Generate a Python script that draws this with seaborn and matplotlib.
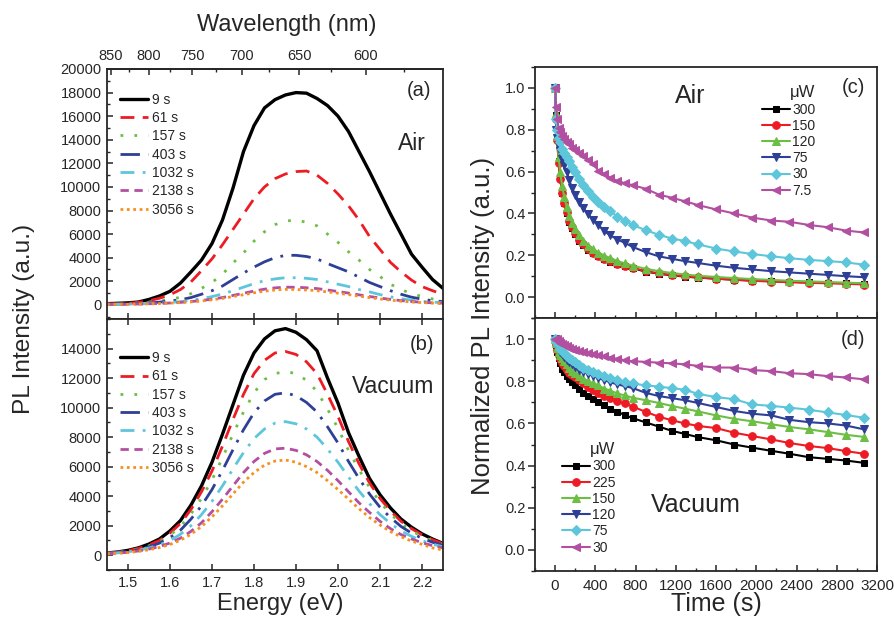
import numpy as np
import pandas as pd
import matplotlib
matplotlib.use("Agg")
import matplotlib.pyplot as plt
import seaborn as sns
from matplotlib.ticker import MultipleLocator, FixedLocator

# ---------------- data ----------------
energy = [1.450, 1.475, 1.500, 1.525, 1.550, 1.575, 1.600, 1.625, 1.650, 1.675, 1.700,
          1.725, 1.750, 1.775, 1.800, 1.825, 1.850, 1.875, 1.900, 1.925, 1.950, 1.975,
          2.000, 2.025, 2.050, 2.075, 2.100, 2.125, 2.150, 2.175, 2.200, 2.225, 2.250]

time_labels = ["9 s", "61 s", "157 s", "403 s", "1032 s", "2138 s", "3056 s"]

air_9 = [100, 130, 170, 240, 460, 750, 1150, 1850, 2800, 3800, 5200, 7200, 9900, 13000, 15200,
         16700, 17400, 17800, 18000, 17950, 17500, 16900, 16000, 14700, 13000, 11300, 9500,
         7700, 6000, 4300, 3200, 2150, 1400]
air_61 = [80, 100, 130, 200, 350, 560, 850, 1300, 1950, 2900, 3900, 5100, 6400, 7700, 9000,
          10000, 10700, 11100, 11300, 11350, 11000, 10300, 9400, 8400, 7200, 5800, 4700, 3600,
          2800, 2100, 1550, 1200, 900]
air_157 = [60, 80, 110, 160, 240, 330, 470, 640, 950, 1400, 1900, 2600, 3550, 4400, 5400, 6200,
           6800, 7100, 7200, 7000, 6700, 6000, 5300, 4500, 3800, 3000, 2400, 1750, 1300, 950,
           700, 500, 380]
air_403 = [50, 60, 80, 110, 160, 230, 330, 430, 620, 900, 1200, 1600, 2150, 2700, 3200, 3650,
           4000, 4200, 4200, 4100, 3900, 3500, 3150, 2800, 2350, 1900, 1550, 1200, 900, 650,
           480, 350, 280]
air_1032 = [40, 50, 60, 80, 110, 150, 200, 270, 380, 520, 700, 920, 1200, 1500, 1800, 2050,
            2200, 2300, 2300, 2250, 2150, 1950, 1750, 1550, 1300, 1100, 870, 680, 520, 400,
            300, 230, 180]
air_2138 = [40, 45, 55, 70, 90, 120, 160, 210, 280, 370, 480, 620, 800, 980, 1170, 1330, 1440,
            1500, 1490, 1450, 1380, 1260, 1130, 1000, 850, 710, 580, 460, 360, 280, 220, 170, 140]
air_3056 = [40, 45, 50, 65, 85, 110, 145, 190, 250, 330, 430, 550, 700, 860, 1020, 1160, 1260,
            1310, 1300, 1260, 1200, 1100, 990, 870, 740, 620, 500, 400, 310, 240, 190, 150, 120]

vac_9 = [150, 220, 330, 500, 760, 1100, 1650, 2350, 3400, 4700, 6300, 8200, 10200, 12200, 13700,
         14650, 15200, 15350, 15100, 14600, 13850, 12000, 10300, 8300, 6700, 5200, 4100, 3200,
         2450, 1900, 1450, 1100, 800]
vac_61 = [150, 210, 310, 460, 700, 1000, 1500, 2150, 3100, 4300, 5700, 7400, 9200, 10900, 12300,
          13200, 13700, 13800, 13600, 13100, 12300, 10900, 9400, 7700, 6200, 4900, 3850, 3000,
          2300, 1800, 1380, 1050, 780]
vac_157 = [140, 200, 290, 430, 640, 920, 1350, 1950, 2800, 3850, 5100, 6600, 8200, 9700, 11000,
           11900, 12300, 12450, 12300, 11850, 11100, 9900, 8600, 7100, 5800, 4600, 3600, 2800,
           2150, 1650, 1280, 980, 730]
vac_403 = [130, 180, 260, 390, 570, 820, 1200, 1700, 2450, 3350, 4450, 5750, 7150, 8500, 9650,
           10450, 10900, 11000, 10800, 10350, 9700, 8700, 7600, 6350, 5200, 4150, 3250, 2550,
           1950, 1500, 1150, 880, 660]
vac_1032 = [120, 160, 230, 340, 490, 700, 1000, 1420, 2000, 2750, 3650, 4700, 5850, 6950, 7900,
            8550, 8950, 9050, 8900, 8550, 8000, 7200, 6300, 5300, 4350, 3500, 2750, 2150, 1650,
            1280, 980, 750, 570]
vac_2138 = [110, 140, 200, 290, 420, 590, 830, 1160, 1620, 2200, 2950, 3800, 4700, 5600, 6350,
            6900, 7200, 7250, 7100, 6800, 6350, 5750, 5050, 4300, 3550, 2900, 2300, 1800, 1400,
            1100, 850, 650, 500]
vac_3056 = [100, 130, 180, 260, 370, 520, 730, 1020, 1420, 1950, 2600, 3350, 4150, 4950, 5600,
            6100, 6380, 6450, 6300, 6000, 5600, 5050, 4450, 3800, 3150, 2550, 2050, 1600, 1250,
            960, 740, 500, 350]

wavelength_ticks = [850, 800, 750, 700, 650, 600]
wavelength_minor = [825, 775, 725, 675, 625, 575]

time_s = [0, 10, 20, 35, 50, 70, 90, 115, 140, 170, 200, 240, 280, 330, 380, 430, 490, 550, 620,
          690, 770, 900, 1030, 1160, 1290, 1420, 1600, 1780, 1960, 2150, 2330, 2520, 2710, 2890,
          3070]

power_air = ["300", "150", "120", "75", "30", "7.5"]
c_300 = [1.0, 0.87, 0.76, 0.65, 0.57, 0.5, 0.45, 0.40, 0.36, 0.33, 0.30, 0.27, 0.25, 0.225, 0.21,
         0.195, 0.18, 0.17, 0.158, 0.148, 0.138, 0.122, 0.112, 0.104, 0.098, 0.093, 0.088, 0.083,
         0.079, 0.076, 0.073, 0.07, 0.068, 0.066, 0.064]
c_150 = [1.0, 0.85, 0.75, 0.64, 0.565, 0.5, 0.45, 0.405, 0.365, 0.335, 0.305, 0.275, 0.255, 0.23,
         0.213, 0.198, 0.184, 0.172, 0.16, 0.15, 0.14, 0.124, 0.113, 0.105, 0.099, 0.094, 0.088,
         0.083, 0.078, 0.074, 0.071, 0.068, 0.066, 0.064, 0.06]
c_120 = [1.0, 0.88, 0.77, 0.67, 0.6, 0.53, 0.48, 0.43, 0.39, 0.355, 0.325, 0.295, 0.27, 0.245,
         0.228, 0.213, 0.198, 0.186, 0.172, 0.162, 0.15, 0.135, 0.124, 0.115, 0.108, 0.102, 0.096,
         0.091, 0.086, 0.082, 0.078, 0.075, 0.072, 0.069, 0.066]
c_75 = [1.0, 0.8, 0.76, 0.72, 0.70, 0.66, 0.63, 0.6, 0.56, 0.52, 0.49, 0.455, 0.425, 0.395, 0.37,
        0.345, 0.315, 0.295, 0.275, 0.26, 0.24, 0.215, 0.195, 0.183, 0.172, 0.163, 0.15, 0.14,
        0.132, 0.124, 0.118, 0.112, 0.106, 0.1, 0.095]
c_30 = [1.0, 0.85, 0.8, 0.76, 0.74, 0.71, 0.69, 0.67, 0.65, 0.62, 0.6, 0.565, 0.535, 0.505, 0.48,
        0.455, 0.43, 0.41, 0.385, 0.365, 0.345, 0.32, 0.298, 0.28, 0.268, 0.252, 0.232, 0.218,
        0.206, 0.195, 0.186, 0.178, 0.172, 0.166, 0.155]
c_7p5 = [1.0, 0.91, 0.85, 0.81, 0.79, 0.77, 0.755, 0.74, 0.73, 0.715, 0.705, 0.69, 0.675, 0.655,
         0.635, 0.605, 0.588, 0.57, 0.555, 0.545, 0.535, 0.518, 0.49, 0.475, 0.458, 0.44, 0.419,
         0.4, 0.38, 0.366, 0.36, 0.345, 0.334, 0.318, 0.309]

power_vac = ["300", "225", "150", "120", "75", "30"]
d_300 = [1.0, 0.97, 0.94, 0.91, 0.885, 0.86, 0.845, 0.825, 0.81, 0.795, 0.78, 0.765, 0.745, 0.73,
         0.715, 0.70, 0.685, 0.67, 0.655, 0.64, 0.625, 0.605, 0.585, 0.565, 0.55, 0.535, 0.52,
         0.50, 0.485, 0.47, 0.456, 0.44, 0.432, 0.424, 0.413]
d_225 = [1.0, 0.975, 0.95, 0.925, 0.905, 0.885, 0.87, 0.855, 0.84, 0.83, 0.82, 0.805, 0.79, 0.775,
         0.76, 0.745, 0.73, 0.72, 0.705, 0.695, 0.68, 0.655, 0.632, 0.615, 0.60, 0.588, 0.578,
         0.556, 0.54, 0.524, 0.507, 0.493, 0.483, 0.469, 0.456]
d_150 = [1.0, 0.98, 0.96, 0.94, 0.925, 0.91, 0.895, 0.88, 0.865, 0.85, 0.84, 0.825, 0.812, 0.80,
         0.79, 0.78, 0.765, 0.755, 0.742, 0.733, 0.722, 0.71, 0.697, 0.683, 0.67, 0.657, 0.638,
         0.622, 0.61, 0.596, 0.583, 0.572, 0.559, 0.546, 0.536]
d_120 = [1.0, 0.985, 0.97, 0.955, 0.94, 0.93, 0.915, 0.9, 0.89, 0.88, 0.868, 0.855, 0.845, 0.835,
         0.825, 0.815, 0.805, 0.795, 0.785, 0.777, 0.768, 0.745, 0.73, 0.72, 0.71, 0.697, 0.678,
         0.659, 0.646, 0.638, 0.617, 0.606, 0.60, 0.59, 0.572]
d_75 = [1.0, 0.99, 0.98, 0.97, 0.955, 0.945, 0.935, 0.92, 0.91, 0.9, 0.89, 0.875, 0.865, 0.855,
        0.845, 0.835, 0.825, 0.815, 0.805, 0.798, 0.79, 0.78, 0.775, 0.767, 0.76, 0.74, 0.725,
        0.715, 0.69, 0.683, 0.675, 0.665, 0.652, 0.64, 0.627]
d_30 = [1.0, 0.995, 1.0, 0.99, 0.98, 0.975, 0.97, 0.965, 0.96, 0.955, 0.95, 0.945, 0.94, 0.935,
        0.93, 0.925, 0.918, 0.912, 0.906, 0.9, 0.895, 0.892, 0.888, 0.885, 0.88, 0.873, 0.865,
        0.865, 0.853, 0.848, 0.838, 0.834, 0.824, 0.818, 0.809]

# ---------------- styles ----------------
spec_colors = ["#000000", "#ED1C24", "#6DBE45", "#2E3F96", "#5EC6DA", "#B24FA0", "#F7901E"]
spec_styles = ["-", (0, (5, 3)), (0, (1, 4)), (0, (7, 3, 1, 3)), (0, (5, 3, 1, 3)),
               (0, (3, 2)), (0, (1, 1.3))]
spec_widths = [2.4, 2.0, 2.0, 2.0, 2.0, 2.0, 2.0]
kin_colors = ["#000000", "#ED1C24", "#6DBE45", "#2E3F96", "#5EC6DA", "#B24FA0"]
kin_markers = ["s", "o", "^", "v", "D", "<"]
kin_msize = [5, 5.5, 6, 6, 5, 6]

sns.set_style("ticks")
plt.rcParams["font.family"] = ["Liberation Sans", "DejaVu Sans"]
plt.rcParams["axes.linewidth"] = 1.3

fig = plt.figure(figsize=(8.94, 6.19), dpi=100)
W, H = 894, 619
ax_a = fig.add_axes([107 / W, 1 - 319 / H, 336 / W, 250 / H])
ax_b = fig.add_axes([107 / W, 1 - 570 / H, 336 / W, 251 / H])
ax_c = fig.add_axes([535 / W, 1 - 318 / H, 342 / W, 251 / H])
ax_d = fig.add_axes([535 / W, 1 - 571 / H, 342 / W, 253 / H])

air_sets = [air_9, air_61, air_157, air_403, air_1032, air_2138, air_3056]
vac_sets = [vac_9, vac_61, vac_157, vac_403, vac_1032, vac_2138, vac_3056]

for ax, sets in ((ax_a, air_sets), (ax_b, vac_sets)):
    for lab, vals, col, ls, lw in zip(time_labels, sets, spec_colors, spec_styles, spec_widths):
        df = pd.DataFrame({"E": energy, "I": vals})
        sns.lineplot(data=df, x="E", y="I", ax=ax, color=col, linestyle=ls,
                     linewidth=lw, label=lab, legend=False)
    ax.set_xlim(1.45, 2.25)
    ax.xaxis.set_major_locator(MultipleLocator(0.1))
    ax.yaxis.set_major_locator(MultipleLocator(2000))
    ax.yaxis.set_minor_locator(MultipleLocator(1000))
    ax.tick_params(axis="both", which="both", direction="in", labelsize=10.5, pad=4)
    ax.tick_params(axis="both", which="major", length=4, width=1.1)
    ax.tick_params(axis="both", which="minor", length=2.5, width=1.0)
    ax.set_xlabel("")
    ax.set_ylabel("")
    ax.legend(loc="upper left", frameon=False, fontsize=10, handlelength=2.0,
              handletextpad=0.25, labelspacing=0.31, borderaxespad=0, borderpad=0,
              bbox_to_anchor=(0.04, 0.905 if ax is ax_a else 0.872))

ax_a.set_ylim(-1200, 20000)
ax_b.set_ylim(-1000, 16000)
ax_a.tick_params(axis="x", labelbottom=False, top=False)
ax_b.tick_params(axis="x", top=True)
ax_b.yaxis.set_major_locator(FixedLocator([0, 2000, 4000, 6000, 8000, 10000, 12000, 14000]))


def e_to_nm(e):
    e = np.asarray(e, dtype=float)
    with np.errstate(divide="ignore"):
        return 1239.84 / e


sec = ax_a.secondary_xaxis("top", functions=(e_to_nm, e_to_nm))
sec.xaxis.set_major_locator(FixedLocator(wavelength_ticks))
sec.xaxis.set_minor_locator(FixedLocator(wavelength_minor))
sec.tick_params(which="both", direction="in", labelsize=10.5, pad=4)
sec.tick_params(which="major", length=4, width=1.1)
sec.tick_params(which="minor", length=2.5, width=1.0)

ax_a.text(0.965, 0.915, "(a)", transform=ax_a.transAxes, ha="right", va="center", fontsize=14.5)
ax_a.text(0.95, 0.70, "Air", transform=ax_a.transAxes, ha="right", va="center", fontsize=16.5)
ax_b.text(0.975, 0.90, "(b)", transform=ax_b.transAxes, ha="right", va="center", fontsize=14.5)
ax_b.text(0.975, 0.73, "Vacuum", transform=ax_b.transAxes, ha="right", va="center", fontsize=16.5)

# kinetics
c_sets = [c_300, c_150, c_120, c_75, c_30, c_7p5]
d_sets = [d_300, d_225, d_150, d_120, d_75, d_30]
for ax, sets, labels in ((ax_c, c_sets, power_air), (ax_d, d_sets, power_vac)):
    for lab, vals, col, mk, ms in zip(labels, sets, kin_colors, kin_markers, kin_msize):
        df = pd.DataFrame({"t": time_s, "v": vals})
        sns.lineplot(data=df, x="t", y="v", ax=ax, color=col, marker=mk, markersize=ms,
                     markeredgecolor=col, markerfacecolor=col, linewidth=1.5,
                     label=lab, legend=False)
    ax.set_xlim(-200, 3200)
    ax.set_ylim(-0.1, 1.1)
    ax.xaxis.set_major_locator(MultipleLocator(400))
    ax.xaxis.set_minor_locator(MultipleLocator(200))
    ax.yaxis.set_major_locator(FixedLocator([0.0, 0.2, 0.4, 0.6, 0.8, 1.0]))
    ax.yaxis.set_minor_locator(MultipleLocator(0.1))
    ax.tick_params(axis="y", which="both", direction="out", labelsize=10.5, pad=2)
    ax.tick_params(axis="y", which="major", length=5, width=1.1)
    ax.tick_params(axis="y", which="minor", length=3, width=1.0)
    ax.tick_params(axis="x", which="both", direction="in", labelsize=11, pad=6)
    ax.tick_params(axis="x", which="major", length=4, width=1.1)
    ax.tick_params(axis="x", which="minor", length=2.5, width=1.0)
    ax.set_xlabel("")
    ax.set_ylabel("")

ax_c.tick_params(axis="x", labelbottom=False)
ax_c.legend(title="μW", loc="upper right", bbox_to_anchor=(0.82, 0.927), frameon=False,
            fontsize=10, title_fontsize=12, handlelength=2.0, handletextpad=0.15,
            labelspacing=0.16, borderpad=0, borderaxespad=0, alignment="right")
ax_d.legend(title="μW", loc="lower left", bbox_to_anchor=(0.08, 0.065), frameon=False,
            fontsize=10, title_fontsize=12, handlelength=2.0, handletextpad=0.15,
            labelspacing=0.16, borderpad=0, borderaxespad=0, alignment="right")

ax_c.text(0.965, 0.92, "(c)", transform=ax_c.transAxes, ha="right", va="center", fontsize=14.5)
ax_c.text(0.455, 0.885, "Air", transform=ax_c.transAxes, ha="center", va="center", fontsize=18)
ax_d.text(0.965, 0.915, "(d)", transform=ax_d.transAxes, ha="right", va="center", fontsize=14.5)
ax_d.text(0.47, 0.26, "Vacuum", transform=ax_d.transAxes, ha="center", va="center", fontsize=18)

# axis titles
fig.text(24 / W, 1 - 319 / H, "PL Intensity (a.u.)", rotation=90, ha="center", va="center",
         fontsize=17.6)
fig.text(483 / W, 1 - 326 / H, "Normalized PL Intensity (a.u.)", rotation=90, ha="center",
         va="center", fontsize=18.5)
fig.text(280 / W, 1 - 604 / H, "Energy (eV)", ha="center", va="center", fontsize=17)
fig.text(716 / W, 1 - 604 / H, "Time (s)", ha="center", va="center", fontsize=18)
fig.text(287 / W, 1 - 25 / H, "Wavelength (nm)", ha="center", va="center", fontsize=17)

fig.savefig("out.png", dpi=100)
